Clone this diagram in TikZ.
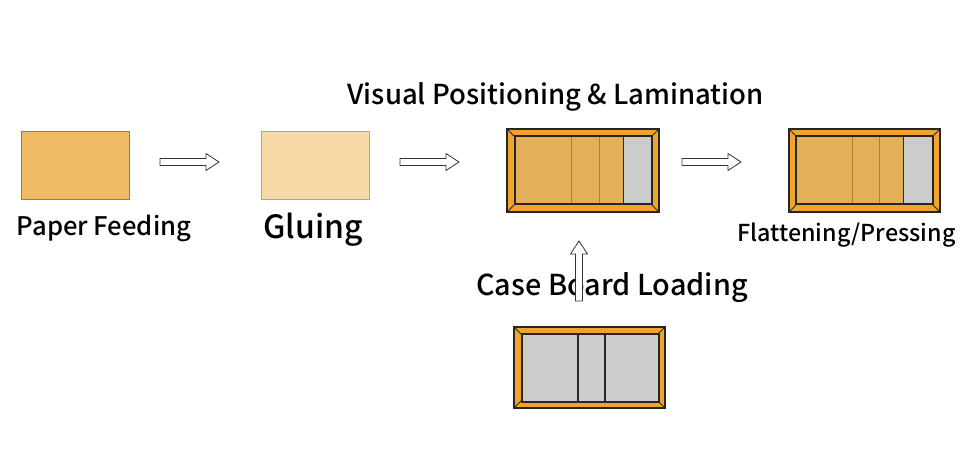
\documentclass[tikz,border=0pt]{standalone}
\usepackage{fontspec}
\setmainfont{Noto Sans CJK SC}[UprightFont={* Medium}]
\usetikzlibrary{calc}
\definecolor{feed}{HTML}{F0BB63}
\definecolor{glue}{HTML}{F8DAA8}
\definecolor{frameor}{HTML}{F0A52A}
\definecolor{tanpanel}{HTML}{E3B05A}
\definecolor{tanline}{HTML}{B08030}
\definecolor{panelgrey}{HTML}{CCCCCC}
\definecolor{edgegrey}{HTML}{808080}
\newcommand\bframe[4]{%
  \filldraw[draw=black!85, line width=1.3pt, fill=frameor] (#1,#2) rectangle (#3,#4);
  \draw[black!85, line width=1pt] (#1,#2) -- ++(7,7) (#3,#2) -- ++(-7,7) (#1,#4) -- ++(7,-7) (#3,#4) -- ++(-7,-7);
}
\newcommand\hblockarrow[2]{%
  \draw[blockarrow] let \p1=(#1), \p2=(#2) in
    (\x1,\y1-3.5) -- (\x2-13,\y1-3.5) -- (\x2-13,\y1-8.5) -- (\x2,\y1) -- (\x2-13,\y1+8.5) -- (\x2-13,\y1+3.5) -- (\x1,\y1+3.5) -- cycle;
}
\newcommand\vblockarrow[2]{%
  \draw[blockarrow] let \p1=(#1), \p2=(#2) in
    (\x1-3.5,\y1) -- (\x1-3.5,\y2-13) -- (\x1-8.5,\y2-13) -- (\x1,\y2) -- (\x1+8.5,\y2-13) -- (\x1+3.5,\y2-13) -- (\x1+3.5,\y1) -- cycle;
}
\tikzset{
  blockarrow/.style={draw=black!80, fill=white, line width=0.8pt, line join=miter},
  plainbox/.style={rectangle, inner sep=0pt, minimum width=108pt, minimum height=68pt, line width=0.8pt},
  lbl/.style={inner sep=0pt, text=black},
}
\begin{document}
\begin{tikzpicture}[x=1pt,y=-1pt]
\useasboundingbox (0,0) rectangle (960,463);
% plain boxes
\node[plainbox, fill=feed, draw=edgegrey] (paper) at (75,165) {};
\node[plainbox, fill=glue, draw=edgegrey!70] (gluing) at (315,165) {};
% lamination frame
\bframe{507}{129}{659}{212}
\fill[tanpanel] (515,136) rectangle (623,204);
\fill[panelgrey] (623,136) rectangle (652,204);
\draw[tanline, line width=0.8pt] (571,136) -- (571,204) (599,136) -- (599,204);
\draw[black!85, line width=1pt] (623,136) -- (623,204);
\draw[black!85, line width=1.3pt] (515,136) rectangle (652,204);
\node[inner sep=0pt, minimum width=152pt, minimum height=83pt] (lam) at (583,170.5) {};
% flattening frame
\bframe{789}{129}{940}{212}
\fill[tanpanel] (796,136) rectangle (903,204);
\fill[panelgrey] (903,136) rectangle (933,204);
\draw[tanline, line width=0.8pt] (852,136) -- (852,204) (879,136) -- (879,204);
\draw[black!85, line width=1pt] (903,136) -- (903,204);
\draw[black!85, line width=1.3pt] (796,136) rectangle (933,204);
\node[inner sep=0pt, minimum width=151pt, minimum height=83pt] (flat) at (864.5,170.5) {};
% case board frame
\bframe{514}{327}{665}{408}
\fill[panelgrey] (522,334) rectangle (659,402);
\draw[black!85, line width=1.3pt] (578,334) -- (578,402) (605,334) -- (605,402);
\draw[black!85, line width=1.3pt] (522,334) rectangle (659,402);
\node[inner sep=0pt, minimum width=151pt, minimum height=81pt] (case) at (589.5,367.5) {};
% labels
\node[lbl, font=\fontsize{25.6}{30}\selectfont] (tpaper) at (104,228) {Paper Feeding};
\node[lbl, font=\fontsize{32}{38}\selectfont] (tglue) at (313,230) {Gluing};
\node[lbl, font=\fontsize{27.5}{32}\selectfont] (tlam) at (555.5,97) {Visual Positioning \& Lamination};
\node[lbl, font=\fontsize{23.3}{28}\selectfont] (tflat) at (846.5,235) {Flattening/Pressing};
\node[lbl, font=\fontsize{28.8}{35}\selectfont] (tcase) at (612,288) {Case Board Loading};
% arrows
\coordinate (a1s) at (160,162); \coordinate (a1e) at (219,162);
\coordinate (a2s) at (400,162); \coordinate (a2e) at (459,162);
\coordinate (a3s) at (682,162); \coordinate (a3e) at (741,162);
\coordinate (a4s) at (579,301); \coordinate (a4e) at (579,241);
\hblockarrow{a1s}{a1e}
\hblockarrow{a2s}{a2e}
\hblockarrow{a3s}{a3e}
\vblockarrow{a4s}{a4e}
\end{tikzpicture}
\end{document}
